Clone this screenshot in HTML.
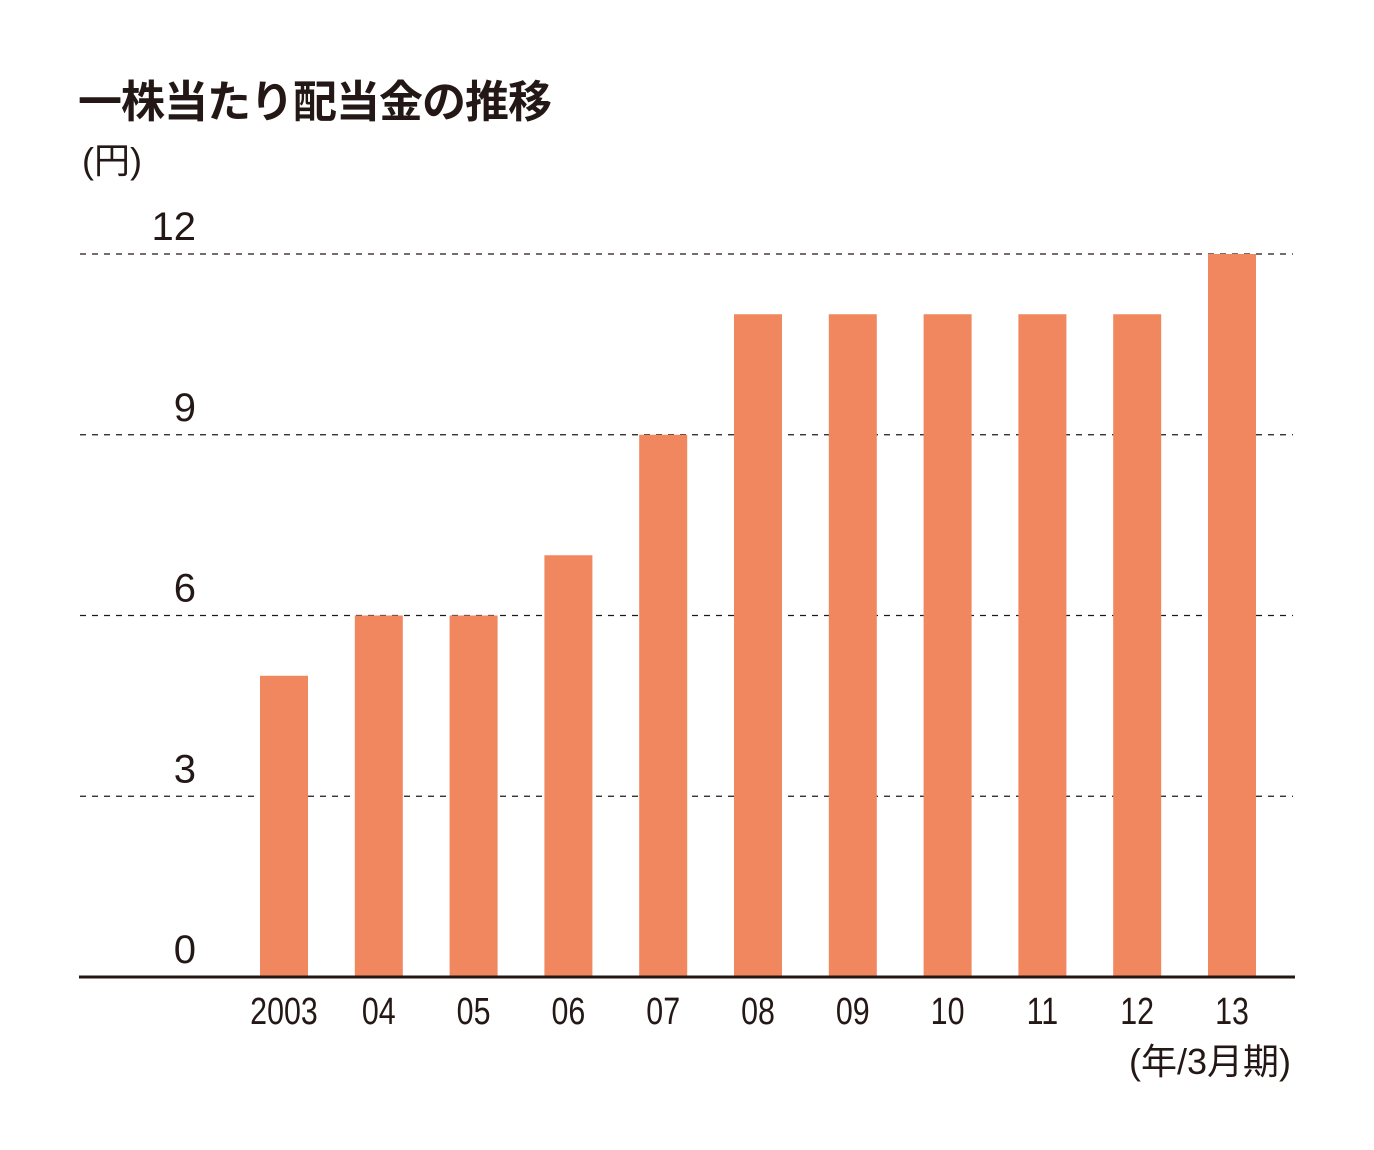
<!DOCTYPE html>
<html><head><meta charset="utf-8">
<style>
html,body{margin:0;padding:0;background:#fff;}
body{width:1374px;height:1150px;overflow:hidden;position:relative;font-family:"Liberation Sans","Noto Sans CJK JP",sans-serif;color:#231815;}
.title{position:absolute;left:78px;top:66px;font-size:44px;font-weight:bold;letter-spacing:-1px;}
.unit{position:absolute;left:82px;top:132px;font-size:36px;}
svg{position:absolute;left:0;top:0;}
</style></head>
<body>
<div class="title">一株当たり配当金の推移</div>
<div class="unit">(円)</div>
<svg id="chart" width="1374" height="1150"></svg>
<script>
const categories=["2003","04","05","06","07","08","09","10","11","12","13"];
const values=[5,6,6,7,9,11,11,11,11,11,12];
const yTicks=[0,3,6,9,12];
const svg=document.getElementById('chart');
const NS='http://www.w3.org/2000/svg';
const y0=977,yTop=254,yMax=12;
function y(v){return y0-(v/yMax)*(y0-yTop);}
const xStart=284,xStep=94.8,barW=48;
function x(i){return xStart+i*xStep;}
function mk(tag,attrs){const e=document.createElementNS(NS,tag);for(const k in attrs)e.setAttribute(k,attrs[k]);svg.appendChild(e);return e;}
yTicks.forEach(t=>{
  if(t>0){
    const l=mk('line',{x1:80,x2:1293,y1:y(t),y2:y(t),stroke:'#231815','stroke-width':1.3,'stroke-dasharray':'6 6'});
    
    
  }
  const tx=mk('text',{x:196,y:y(t)-14,'text-anchor':'end','font-size':40,fill:'#231815','font-family':'Liberation Sans, sans-serif'});
  tx.textContent=t;
  
  
});
values.forEach((v,i)=>{
  const r=mk('rect',{x:x(i)-barW/2,y:y(v),width:barW,height:y0-y(v),fill:'#F0875F'});
  
  
  const t=mk('text',{x:x(i),y:1024,'text-anchor':'middle','font-size':38,fill:'#231815','font-family':'Liberation Sans Narrow, Liberation Sans, sans-serif',transform:'translate('+x(i)+',0) scale(0.8,1) translate('+(-x(i))+',0)'});
  t.textContent=categories[i];
  
  
});
const ax=mk('line',{x1:79,x2:1295,y1:y0,y2:y0,stroke:'#231815','stroke-width':3});


const xt=mk('text',{x:1291,y:1074,'text-anchor':'end','font-size':36,fill:'#231815','font-family':'Liberation Sans, Noto Sans CJK JP, sans-serif'});
xt.textContent='(年/3月期)';


</script>
</body></html>
